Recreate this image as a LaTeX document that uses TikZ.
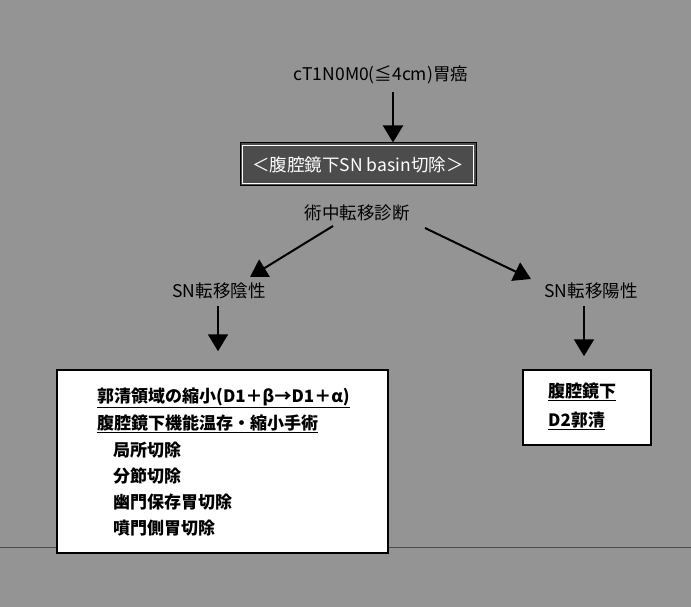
\documentclass[tikz,border=0pt]{standalone}
\usepackage{fontspec}
\setmainfont{Noto Sans CJK JP}
\usetikzlibrary{arrows.meta}
\definecolor{bg}{gray}{0.58}
\definecolor{boxdark}{gray}{0.3}
\begin{document}
\begin{tikzpicture}[x=1pt,y=-1pt,
  arr/.style={line width=2pt,-{Triangle[width=20pt,length=17pt]}},
  lbl/.style={font=\fontsize{17.5}{19}\selectfont, inner sep=0},
  btxt/.style={font=\bfseries\fontsize{17}{19}\selectfont, inner sep=0, anchor=west},
  wbox/.style={draw=black, line width=1.5pt, fill=white, inner sep=0}]
\useasboundingbox (0,0) rectangle (691,607);
\fill[bg] (0,0) rectangle (691,607);
\draw[black!70, line width=0.8pt] (0,547) -- (691,547);
\node[lbl] (title) at (381,75) {cT1N0M0(≦4cm)胃癌};
\node[draw=black, line width=1pt, fill=boxdark, minimum width=236pt, minimum height=43pt, inner sep=0] (sn) at (358,164.5) {};
\draw[white, line width=1pt] ([shift={(3,3)}]sn.north west) rectangle ([shift={(-3,-3)}]sn.south east);
\node[lbl, text=white] (sntxt) at (358,164.5) {＜腹腔鏡下SN basin切除＞};
\coordinate (a1) at (393,92);
\draw[arr] (a1) -- (a1 |- sn.north);
\node[lbl] (diag) at (357,213) {術中転移診断};
\coordinate (d1) at (333,226);
\coordinate (n1) at (250,277);
\coordinate (d2) at (425,228);
\coordinate (p1) at (531,279);
\draw[arr] (d1) -- (n1);
\draw[arr] (d2) -- (p1);
\node[lbl] (neg) at (219,291) {SN転移陰性};
\node[lbl] (pos) at (591,291) {SN転移陽性};
\node[wbox, minimum width=331pt, minimum height=183pt] (lbox) at (222.5,461.5) {};
\node[wbox, minimum width=128pt, minimum height=75pt] (rbox) at (587,407.5) {};
\coordinate (nb) at (218,306);
\coordinate (pb) at (584,306);
\draw[arr] (nb) -- ([yshift=18pt]nb |- lbox.north);
\draw[arr] (pb) -- ([yshift=13pt]pb |- rbox.north);
\node[btxt] (l1) at (97,398) {\underline{郭清領域の縮小(D1＋β→D1＋α)}};
\node[btxt] (l2) at (97,424) {\underline{腹腔鏡下機能温存・縮小手術}};
\node[btxt] (l3) at (113,450) {局所切除};
\node[btxt] (l4) at (113,476) {分節切除};
\node[btxt] (l5) at (113,502) {幽門保存胃切除};
\node[btxt] (l6) at (113,528) {噴門側胃切除};
\node[btxt] (r1) at (548,392) {\underline{腹腔鏡下}};
\node[btxt] (r2) at (548,421) {\underline{D2郭清}};
\end{tikzpicture}
\end{document}
